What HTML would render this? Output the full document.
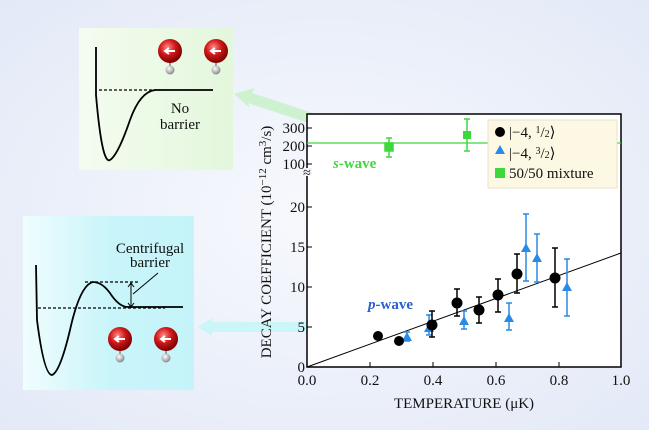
<!DOCTYPE html>
<html><head><style>
html,body{margin:0;padding:0;width:649px;height:430px;overflow:hidden}
svg{display:block}
text{font-family:"Liberation Serif",serif;fill:#111}
</style></head><body>
<svg width="649" height="430" viewBox="0 0 649 430" xmlns="http://www.w3.org/2000/svg">
<defs>
<radialGradient id="bg" cx="50%" cy="50%" r="70%">
<stop offset="0" stop-color="#f7f9fd"/><stop offset="1" stop-color="#e3e9f7"/>
</radialGradient>
<linearGradient id="gp" x1="0" x2="1"><stop offset="0" stop-color="#f4fcf0"/><stop offset="1" stop-color="#e3f7dc"/></linearGradient>
<linearGradient id="cp" x1="0" x2="1"><stop offset="0" stop-color="#f0fdfe"/><stop offset="0.5" stop-color="#c9f5fa"/><stop offset="1" stop-color="#c4f4f9"/></linearGradient>
<radialGradient id="ball" cx="40%" cy="35%" r="65%"><stop offset="0" stop-color="#ff8a8a"/><stop offset="0.5" stop-color="#d01818"/><stop offset="1" stop-color="#7a0000"/></radialGradient>
<radialGradient id="hb" cx="40%" cy="35%" r="65%"><stop offset="0" stop-color="#fff"/><stop offset="1" stop-color="#888"/></radialGradient>
<g id="mol"><line x1="0" y1="0" x2="0" y2="18" stroke="#999" stroke-width="2"/><circle cx="0" cy="19" r="4.5" fill="url(#hb)"/><circle cx="0" cy="0" r="12" fill="url(#ball)"/><path d="M5 0 H-4 M-1 -3 L-5 0 L-1 3" stroke="#fff" stroke-width="2" fill="none"/></g>
</defs>
<rect width="649" height="430" fill="url(#bg)"/>
<rect x="79" y="28" width="154" height="142" fill="url(#gp)"/>
<path d="M96 47 L96 95 Q102 165 110 160 Q118 155 130 120 Q140 92 155 90 L213 90" fill="none" stroke="#000" stroke-width="1.8"/>
<line x1="99" y1="90" x2="160" y2="90" stroke="#000" stroke-width="1.2" stroke-dasharray="3,2"/>
<text x="180" y="113" font-size="15" text-anchor="middle">No</text>
<text x="180" y="129" font-size="15" text-anchor="middle">barrier</text>
<use href="#mol" x="170" y="51"/><use href="#mol" x="216" y="51"/>
<rect x="23" y="216" width="171" height="174" fill="url(#cp)"/>
<path d="M36 265 L37 320 Q44 375 52 375 Q60 372 70 330 Q80 285 93 282 Q103 282 112 296 Q120 307 128 307 L183 307" fill="none" stroke="#000" stroke-width="1.8"/>
<line x1="38" y1="308" x2="165" y2="308" stroke="#000" stroke-width="1.2" stroke-dasharray="3,2"/>
<line x1="85" y1="282" x2="140" y2="282" stroke="#000" stroke-width="1.2" stroke-dasharray="3,2"/>
<line x1="131" y1="284" x2="131" y2="306" stroke="#000" stroke-width="1"/>
<path d="M128 287 L131 283 L134 287 M128 303 L131 307 L134 303" stroke="#000" fill="none"/>
<line x1="133" y1="294" x2="158" y2="273" stroke="#000" stroke-width="1"/>
<text x="150" y="253" font-size="15" text-anchor="middle">Centrifugal</text>
<text x="150" y="267" font-size="15" text-anchor="middle">barrier</text>
<use href="#mol" x="120" y="339"/><use href="#mol" x="166" y="339"/>
<polygon points="252,93 370,132 366,142 248,103 250,108 234,94 255,88" fill="#c6f0c6" opacity="0.8"/>
<polygon points="212,322 342,322 342,332 212,332 212,336 198,327 212,318" fill="#c6f6f7" opacity="0.9"/>
<rect x="307" y="114" width="314" height="253" fill="#fff" stroke="#000" stroke-width="1.5"/>
<line x1="307" y1="143" x2="621" y2="143" stroke="#3ed83e" stroke-width="1.2"/>
<g stroke="#000" stroke-width="1">
<line x1="307" y1="128" x2="312" y2="128"/><line x1="307" y1="146" x2="312" y2="146"/><line x1="307" y1="164" x2="312" y2="164"/>
<line x1="307" y1="327" x2="312" y2="327"/><line x1="307" y1="287" x2="312" y2="287"/><line x1="307" y1="247" x2="312" y2="247"/><line x1="307" y1="207" x2="312" y2="207"/>
<line x1="370" y1="367" x2="370" y2="362"/><line x1="433" y1="367" x2="433" y2="362"/><line x1="496" y1="367" x2="496" y2="362"/><line x1="559" y1="367" x2="559" y2="362"/>
</g>
<rect x="302" y="168" width="10" height="8" fill="#f4f6fc"/>
<text x="307" y="177" font-size="14" text-anchor="middle">≈</text>
<g font-size="15" text-anchor="end">
<text x="305" y="133">300</text><text x="305" y="151">200</text><text x="305" y="169">100</text>
<text x="305" y="212">20</text><text x="305" y="252">15</text><text x="305" y="292">10</text><text x="305" y="332">5</text><text x="305" y="372">0</text>
</g>
<g font-size="15" text-anchor="middle">
<text x="307" y="385">0.0</text><text x="370" y="385">0.2</text><text x="433" y="385">0.4</text><text x="496" y="385">0.6</text><text x="559" y="385">0.8</text><text x="621" y="385">1.0</text>
<text x="464" y="408">TEMPERATURE (μK)</text>
</g>
<text transform="translate(271,242) rotate(-90)" font-size="15" text-anchor="middle">DECAY COEFFICIENT (10<tspan dy="-5" font-size="11">−12</tspan><tspan dy="5"> cm</tspan><tspan dy="-5" font-size="11">3</tspan><tspan dy="5">/s)</tspan></text>
<text x="333" y="168" font-size="15" font-weight="bold" style="fill:#3ed83e"><tspan font-style="italic">s</tspan>-wave</text>
<text x="368" y="309" font-size="15" font-weight="bold" style="fill:#2a5fd0"><tspan font-style="italic">p</tspan>-wave</text>
<line x1="307" y1="367" x2="621" y2="253" stroke="#000" stroke-width="1"/>
<g stroke="#3ed83e" stroke-width="1.5" fill="#3ed83e">
<line x1="389" y1="138" x2="389" y2="157"/><line x1="386" y1="138" x2="392" y2="138"/><line x1="386" y1="157" x2="392" y2="157"/><rect x="385" y="143" width="8" height="8"/>
<line x1="467" y1="119" x2="467" y2="151"/><line x1="464" y1="119" x2="470" y2="119"/><line x1="464" y1="151" x2="470" y2="151"/><rect x="463" y="131" width="8" height="8" stroke="none"/>
</g>
<g stroke="#2a8ae6" stroke-width="1.5" fill="#2a8ae6">
<path d="M407 341 V332 M404 341 H410 M404 332 H410"/>
<path d="M429 335 V315 M426 335 H432 M426 315 H432"/>
<path d="M464 329 V311 M461 329 H467 M461 311 H467"/>
<path d="M509 330 V303 M506 330 H512 M506 303 H512"/>
<path d="M526 281 V214 M523 281 H529 M523 214 H529"/>
<path d="M537 282 V234 M534 282 H540 M534 234 H540"/>
<path d="M567 316 V259 M564 316 H570 M564 259 H570"/>
<g stroke="none">
<polygon points="407,332 402,341 412,341"/>
<polygon points="429,323 424,332 434,332"/>
<polygon points="464,316 459,325 469,325"/>
<polygon points="509,313 504,322 514,322"/>
<polygon points="526,243 521,252 531,252"/>
<polygon points="537,253 532,262 542,262"/>
<polygon points="567,282 562,291 572,291"/>
</g></g>
<g stroke="#000" stroke-width="1.5" fill="#000">
<path d="M432 337 V311 M429 337 H435 M429 311 H435"/>
<path d="M457 316 V289 M454 316 H460 M454 289 H460"/>
<path d="M479 323 V297 M476 323 H482 M476 297 H482"/>
<path d="M498 312 V279 M495 312 H501 M495 279 H501"/>
<path d="M517 293 V254 M514 293 H520 M514 254 H520"/>
<path d="M555 307 V248 M552 307 H558 M552 248 H558"/>
<g stroke="none">
<circle cx="378" cy="336" r="5"/><circle cx="399" cy="341" r="5"/><circle cx="432" cy="325" r="5.5"/>
<circle cx="457" cy="303" r="5.5"/><circle cx="479" cy="310" r="5.5"/><circle cx="498" cy="295" r="5.5"/>
<circle cx="517" cy="274" r="5.5"/><circle cx="555" cy="278" r="5.5"/>
</g></g>
<rect x="488" y="120" width="129" height="68" fill="#fdf8e4" stroke="#e8e2c8" stroke-width="1"/>
<circle cx="500" cy="132" r="5" fill="#000"/>
<polygon points="500,145 495,154 505,154" fill="#2a8ae6"/>
<rect x="495" y="168" width="10" height="10" fill="#3ed83e"/>
<g font-size="15">
<text x="509" y="137">|−4, <tspan font-size="10" dy="-4">1</tspan><tspan dy="4">/</tspan><tspan font-size="10">2</tspan>⟩</text>
<text x="509" y="158">|−4, <tspan font-size="10" dy="-4">3</tspan><tspan dy="4">/</tspan><tspan font-size="10">2</tspan>⟩</text>
<text x="509" y="178">50/50 mixture</text>
</g>
</svg>
</body></html>
